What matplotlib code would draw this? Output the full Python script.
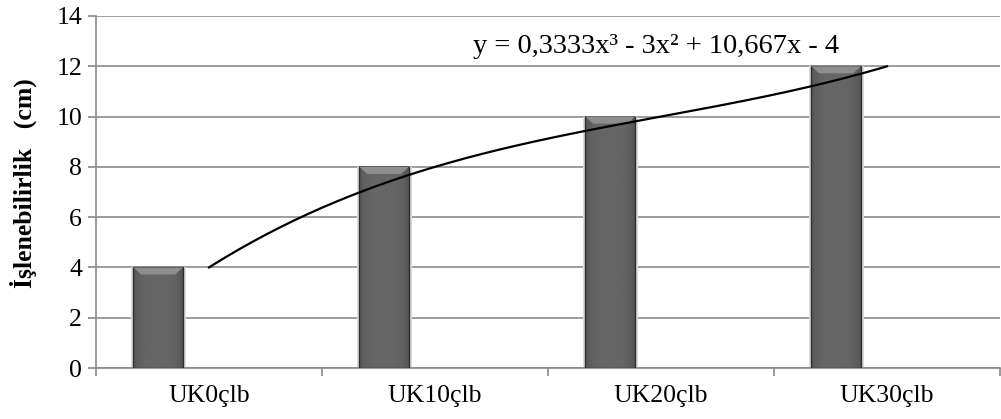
import matplotlib.pyplot as plt
import numpy as np
from matplotlib.patches import Polygon

categories = ["UK0çlb", "UK10çlb", "UK20çlb", "UK30çlb"]
values = [4, 8, 10, 12]
# third-order trendline coefficients (highest power first)
trend_coef = [0.3333, -3, 10.667, -4]
trend_label = "y = 0,3333x³ - 3x² + 10,667x - 4"

plt.rcParams['font.family'] = ['Liberation Serif', 'DejaVu Serif']

fig = plt.figure(figsize=(10.01, 4.19), dpi=100)
ax = fig.add_axes([96/1001, 1-368/419, 904/1001, 352/419])

x = np.arange(1, len(categories) + 1)
bw = 0.22
shift = -0.225
fs = 18.5

# horizontal shading so the bars look rounded
grad = np.linspace(-1, 1, 64)
shade = 0.33 + 0.07 * (1 - grad**4)
img = np.tile(shade, (2, 1))
for xi, v in zip(x, values):
    x0 = xi + shift - bw/2
    # soft shadow
    ax.add_patch(plt.Rectangle((x0 - 0.008, -0.05), bw + 0.02, v + 0.05,
                               color="#dcdcdc", zorder=2, lw=0))
    ax.imshow(img, cmap="gray", vmin=0, vmax=1, aspect="auto",
              extent=(x0, x0 + bw, 0, v), zorder=3, interpolation="bilinear")
    ax.add_patch(plt.Rectangle((x0, 0), bw, v, fill=False,
                               ec="#2e2e2e", lw=1.0, zorder=4))
    bev = 0.28
    ax.add_patch(Polygon([(x0, v), (x0 + bw, v), (x0 + bw - 0.035, v - bev),
                          (x0 + 0.035, v - bev)], closed=True,
                         fc="#8e8e8e", ec="none", zorder=4))

xs = np.linspace(1, 4, 200)
ax.plot(xs, np.polyval(trend_coef, xs), color="black", lw=1.6, zorder=5)
ax.text(2.17, 12.8, trend_label, fontsize=20.5, va="center", ha="left", zorder=6)

ax.set_xlim(0.5, 4.5)
ax.set_ylim(0, 14)
ax.set_yticks(range(0, 15, 2))
ax.set_xticks(x)
ax.set_xticklabels(categories)
ax.set_xticks(np.arange(0.5, 4.6, 1), minor=True)
ax.tick_params(axis="x", which="major", length=0, pad=12, labelsize=fs)
ax.tick_params(axis="x", which="minor", length=6, color="#888888", width=1.2)
ax.tick_params(axis="y", length=6, color="#888888", width=1.2, labelsize=fs, pad=4)
ax.yaxis.grid(True, color="#8c8c8c", lw=1.2, zorder=0)
ax.set_axisbelow(True)
for s in ["top", "right"]:
    ax.spines[s].set_visible(False)
for s in ["left", "bottom"]:
    ax.spines[s].set_color("#888888")
    ax.spines[s].set_linewidth(1.2)
ax.set_ylabel("İşlenebilirlik   (cm)", fontsize=fs, fontweight="bold", va="center")
ax.yaxis.set_label_coords(-0.08, 0.525)

fig.savefig("out.png", dpi=100)
